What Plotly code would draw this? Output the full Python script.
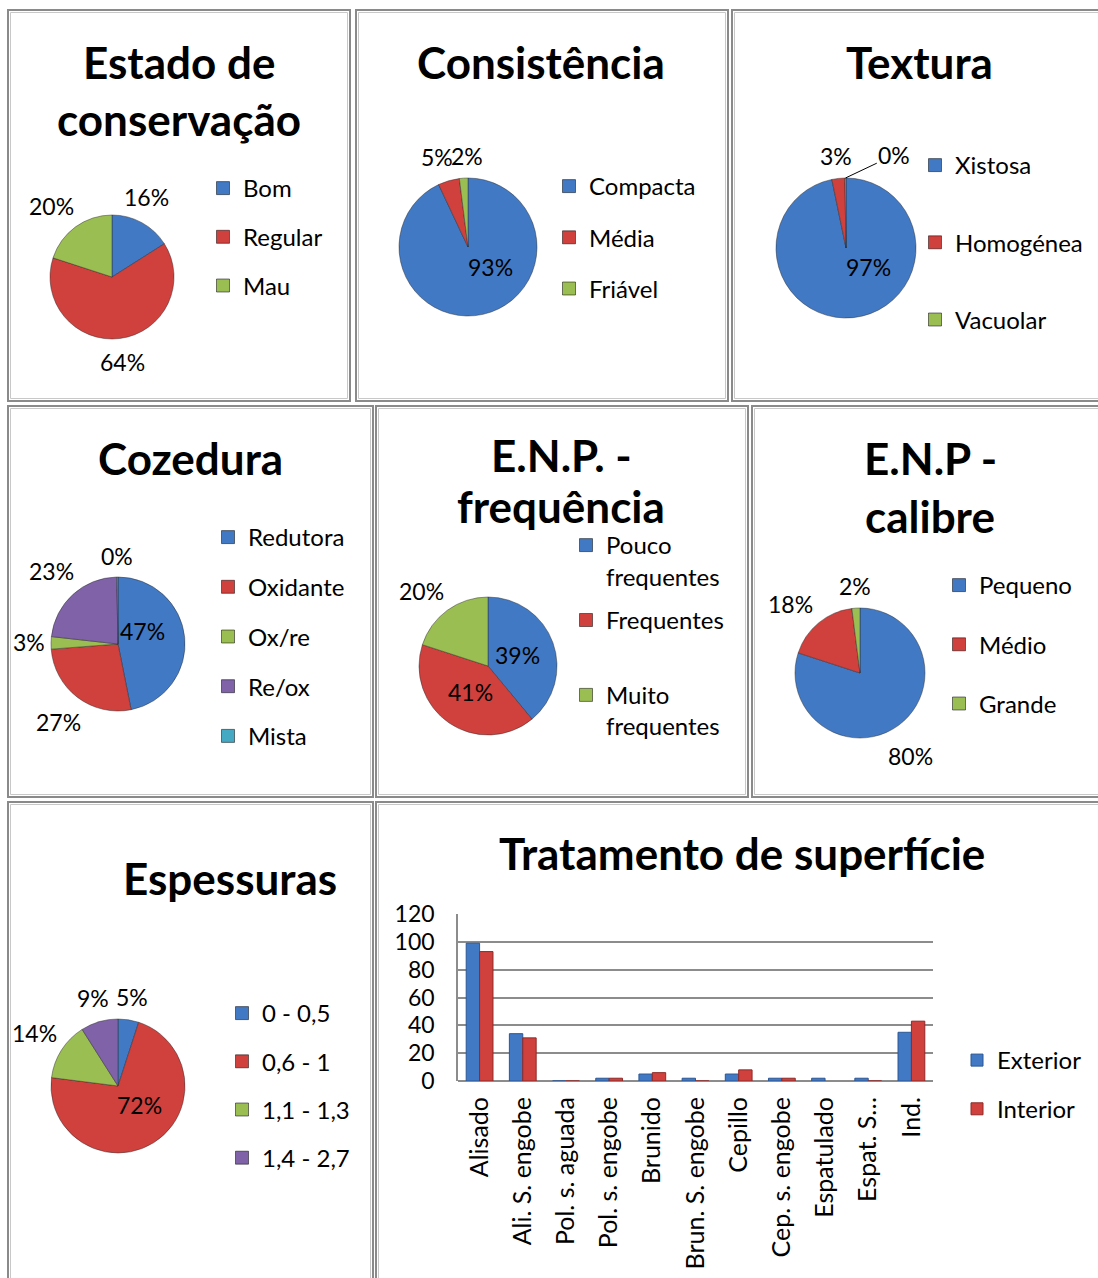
import math
import plotly.graph_objects as go

W, H = 1098, 1278
FONT = "Lato"

BLUE, RED, GREEN, PURPLE, TEAL = "#4279C4", "#D0403D", "#9BBE52", "#7F62A8", "#45A9C4"

# ---------------- data ----------------
estado_labels = ["Bom", "Regular", "Mau"]
estado_values = [16, 64, 20]
estado_text = ["16%", "64%", "20%"]

consist_labels = ["Compacta", "Média", "Friável"]
consist_values = [93, 5, 2]
consist_text = ["93%", "5%", "2%"]

textura_labels = ["Xistosa", "Homogénea", "Vacuolar"]
textura_values = [97, 3, 0.25]
textura_text = ["97%", "3%", "0%"]

cozedura_labels = ["Redutora", "Oxidante", "Ox/re", "Re/ox", "Mista"]
cozedura_values = [47, 27, 3, 23, 0.3]
cozedura_text = ["47%", "27%", "3%", "23%", "0%"]

freq_labels = ["Pouco<br>frequentes", "Frequentes<br>&nbsp;", "Muito<br>frequentes"]
freq_values = [39, 41, 20]
freq_text = ["39%", "41%", "20%"]

calibre_labels = ["Pequeno", "Médio", "Grande"]
calibre_values = [80, 18, 2]
calibre_text = ["80%", "18%", "2%"]

espess_labels = ["0 - 0,5", "0,6 - 1", "1,1 - 1,3", "1,4 - 2,7"]
espess_values = [5, 72, 14, 9]
espess_text = ["5%", "72%", "14%", "9%"]

trat_categories = ["Alisado", "Ali. S. engobe", "Pol. s. aguada", "Pol. s. engobe", "Brunido",
                   "Brun. S. engobe", "Cepillo", "Cep. s. engobe", "Espatulado", "Espat. S…", "Ind."]
trat_exterior = [99, 34, 0, 2, 5, 2, 5, 2, 2, 2, 35]
trat_interior = [93, 31, 0, 2, 6, 0, 8, 2, None, 0, 43]
y_ticks = [0, 20, 40, 60, 80, 100, 120]

LABEL_SIZE = 23
LEGEND_SIZE = 24
TITLE_SIZE = 44

# ---------------- helpers ----------------
def dom(cx, cy, r):
    return dict(x=[(cx - r) / W, (cx + r) / W], y=[1 - (cy + r) / H, 1 - (cy - r) / H])

fig = go.Figure()

def add_pie(labels, values, text, colors, cx, cy, r, inside, nudge=None):
    """nudge: {slice index: (dx px, dy px, draw leader line)}"""
    nudge = nudge or {}
    fig.add_trace(go.Pie(
        labels=labels, values=values, sort=False, direction="clockwise", rotation=0,
        marker=dict(colors=colors, line=dict(color="rgba(40,40,40,0.45)", width=1)),
        textinfo="none", domain=dom(cx, cy, r), showlegend=False, hoverinfo="label+percent",
    ))
    # data labels placed along each slice's mid-angle (derived from the values)
    total = float(sum(values))
    cum = 0.0
    pos = []
    for i, (v, t, ins) in enumerate(zip(values, text, inside)):
        mid = (cum + v / 2.0) / total * 2 * math.pi
        cum += v
        dx, dy = math.sin(mid), -math.cos(mid)
        w = 0.6 * LABEL_SIZE * len(t)
        if ins:
            d = 0.45 * r
        else:
            d = r + 8 + abs(dx) * w / 2 + abs(dy) * 13
        p = [cx + d * dx, cy + d * dy, w, ins, t, None]
        if i in nudge:
            ndx, ndy, leader = nudge[i]
            p[0] += ndx
            p[1] += ndy
            if leader:
                p[5] = (cx + r * dx, cy + r * dy)
        pos.append(p)
    # simple horizontal de-overlap for outside labels
    outs = [p for p in pos if not p[3] and p[5] is None]
    for _ in range(10):
        outs.sort(key=lambda p: p[0])
        for a, b in zip(outs, outs[1:]):
            need = (a[2] + b[2]) / 2 + 2
            if abs(a[1] - b[1]) < 24 and b[0] - a[0] < need:
                push = (need - (b[0] - a[0])) / 2
                a[0] -= push
                b[0] += push
    for x, y, w, ins, t, edge in pos:
        if edge is None:
            fig.add_annotation(text=t, x=x / W, y=1 - y / H, xref="paper", yref="paper",
                               xanchor="center", yanchor="middle", showarrow=False,
                               font=dict(family=FONT, size=LABEL_SIZE, color="black"))
        else:
            fig.add_annotation(text=t, x=edge[0] / W, y=1 - edge[1] / H, xref="paper", yref="paper",
                               ax=x - edge[0], ay=y - edge[1], axref="pixel", ayref="pixel",
                               showarrow=True, arrowhead=0, arrowwidth=1, arrowcolor="black",
                               standoff=0, startstandoff=0,
                               font=dict(family=FONT, size=LABEL_SIZE, color="black"))

def add_legend(name, labels, colors, x, y, gap):
    for lab, col in zip(labels, colors):
        fig.add_trace(go.Scatter(
            x=[None], y=[None], mode="markers", name=lab, legend=name,
            legendgroup=f"{name}_{lab}", showlegend=True,
            marker=dict(symbol="square", size=13, color=col, line=dict(color="rgba(0,0,0,0.5)", width=1)),
            xaxis="x", yaxis="y", hoverinfo="skip",
        ))
    fig.layout[name] = dict(
        x=x / W, y=1 - y / H, xanchor="left", yanchor="top",
        font=dict(family=FONT, size=LEGEND_SIZE, color="black"),
        bgcolor="rgba(0,0,0,0)", borderwidth=0, tracegroupgap=gap,
        itemwidth=30, valign="top",
    )

# Pies
add_pie(estado_labels, estado_values, estado_text, [BLUE, RED, GREEN], 112, 277, 62,
        [False, False, False], nudge={0: (-10, 0, False), 2: (-6, 4, False)})
add_legend("legend", estado_labels, [BLUE, RED, GREEN], 203, 166, 14.5)

add_pie(consist_labels, consist_values, consist_text, [BLUE, RED, GREEN], 468, 247, 69,
        [True, False, False], nudge={0: (16, -10, False)})
add_legend("legend2", consist_labels, [BLUE, RED, GREEN], 549, 164, 17)

add_pie(textura_labels, textura_values, textura_text, [BLUE, RED, GREEN], 846, 248, 70,
        [True, False, False], nudge={0: (19, -12, False), 2: (49, -2, True)})
add_legend("legend3", textura_labels, [BLUE, RED, GREEN], 915, 143, 43)

add_pie(cozedura_labels, cozedura_values, cozedura_text, [BLUE, RED, GREEN, PURPLE, TEAL], 118, 644, 67,
        [True, False, False, False, False], nudge={0: (-6, -10, False)})
add_legend("legend4", cozedura_labels, [BLUE, RED, GREEN, PURPLE, TEAL], 208, 515, 15.5)

add_pie(freq_labels, freq_values, freq_text, [BLUE, RED, GREEN], 488, 666, 69,
        [True, True, False], nudge={2: (-8, 6, False)})
add_legend("legend5", freq_labels, [BLUE, RED, GREEN], 566, 523, 9.5)

add_pie(calibre_labels, calibre_values, calibre_text, [BLUE, RED, GREEN], 860, 673, 65,
        [False, False, False], nudge={0: (-6, 6, False), 1: (-8, 5, False)})
add_legend("legend6", calibre_labels, [BLUE, RED, GREEN], 939, 563, 25)

add_pie(espess_labels, espess_values, espess_text, [BLUE, RED, GREEN, PURPLE], 118, 1086, 67,
        [False, True, False, False], nudge={1: (5, -6, False)})
add_legend("legend7", espess_labels, [BLUE, RED, GREEN, PURPLE], 222, 991, 14)

# Bar chart
fig.add_trace(go.Bar(x=trat_categories, y=trat_exterior, name="Exterior", legend="legend8",
                     legendgroup="ext", marker=dict(color=BLUE, line=dict(color="#2B5794", width=1))))
fig.add_trace(go.Bar(x=trat_categories, y=trat_interior, name="Interior", legend="legend8",
                     legendgroup="int", marker=dict(color=RED, line=dict(color="#8E2A28", width=1))))
fig.layout["legend8"] = dict(
    x=957 / W, y=1 - 1038 / H, xanchor="left", yanchor="top",
    font=dict(family=FONT, size=LEGEND_SIZE, color="black"),
    bgcolor="rgba(0,0,0,0)", borderwidth=0, tracegroupgap=14.5, itemwidth=30,
)

fig.update_layout(
    width=W, height=H, margin=dict(l=0, r=0, t=0, b=0, pad=0, autoexpand=False),
    paper_bgcolor="white", plot_bgcolor="white",
    font=dict(family=FONT, size=22, color="black"),
    barmode="group", bargap=0.38, bargroupgap=0,
    xaxis=dict(domain=[458 / W, 933 / W], anchor="y", type="category", automargin=False,
               tickangle=-90, tickfont=dict(family=FONT, size=25), ticks="",
               showline=False, showgrid=False, ticklabelstandoff=10, fixedrange=True),
    yaxis=dict(domain=[1 - 1081 / H, 1 - 914 / H], anchor="x", range=[0, 120], automargin=False,
               tickvals=y_ticks, tickfont=dict(family=FONT, size=23), ticks="",
               showgrid=True, gridcolor="#8C8C8C", gridwidth=1.5,
               zeroline=True, zerolinecolor="#8C8C8C", zerolinewidth=1.5,
               showline=True, linecolor="#8C8C8C", linewidth=1.5,
               ticklabelstandoff=17, fixedrange=True),
)

# Panel borders
panels = [(8, 10, 350, 401), (356, 10, 728, 401), (732, 10, 1104, 401),
          (8, 406, 373, 797), (376, 406, 748, 797), (752, 406, 1104, 797),
          (8, 802, 373, 1284), (376, 802, 1104, 1284)]
for (x0, y0, x1, y1) in panels:
    fig.add_shape(type="rect", xref="paper", yref="paper",
                  x0=x0 / W, x1=x1 / W, y0=1 - y0 / H, y1=1 - y1 / H,
                  line=dict(color="#8A8A8A", width=2))
    fig.add_shape(type="rect", xref="paper", yref="paper",
                  x0=(x0 + 2.5) / W, x1=(x1 - 2.5) / W, y0=1 - (y0 + 2.5) / H, y1=1 - (y1 - 2.5) / H,
                  line=dict(color="#C8C8C8", width=1))

# Titles (one annotation per line)
title_lines = [("Estado de", 179, 62), ("conservação", 179, 119),
               ("Consistência", 541, 62), ("Textura", 919, 62),
               ("Cozedura", 190, 458),
               ("E.N.P. -", 561, 455), ("frequência", 561, 506),
               ("E.N.P -", 930, 458), ("calibre", 930, 516),
               ("Espessuras", 230, 878), ("Tratamento de superfície", 742, 853)]
for t, x, y in title_lines:
    fig.add_annotation(text=f"<b>{t}</b>", x=x / W, y=1 - y / H, xref="paper", yref="paper",
                       xanchor="center", yanchor="middle", showarrow=False,
                       font=dict(family=FONT, size=TITLE_SIZE, color="black"))

fig.write_html("out.html", config={"displayModeBar": False},
               post_script="document.body.style.margin='0';document.body.style.overflow='hidden';")
